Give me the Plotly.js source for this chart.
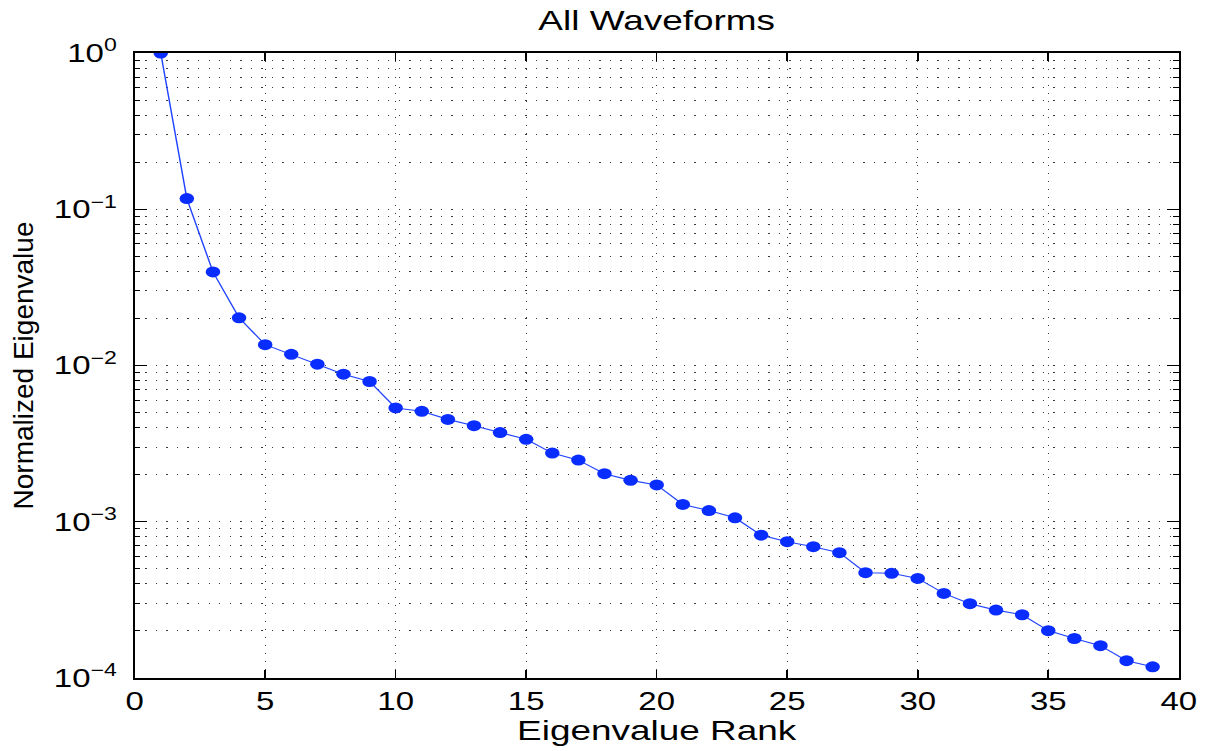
<!DOCTYPE html>
<html>
<head>
<meta charset="utf-8">
<script src="https://cdn.plot.ly/plotly-3.0.1.min.js"></script>
<style>
  html, body { margin: 0; padding: 0; background: #fff; overflow: hidden; }
  #wrap { width: 1209px; height: 751px; overflow: hidden; }
  #chart { transform-origin: 0 0; }
</style>
</head>
<body>
<div id="wrap"><div id="chart"></div></div>
<script>
// Eigenvalue spectrum, normalized to the largest eigenvalue
const rank = [1, 2, 3, 4, 5, 6, 7, 8, 9, 10,
              11, 12, 13, 14, 15, 16, 17, 18, 19, 20,
              21, 22, 23, 24, 25, 26, 27, 28, 29, 30,
              31, 32, 33, 34, 35, 36, 37, 38, 39];
const normEigen = [1.0, 0.117, 0.0397, 0.0202, 0.0136, 0.0118, 0.0102, 0.0088, 0.0079, 0.00535,
                   0.00509, 0.00452, 0.00412, 0.00372, 0.00337, 0.00275, 0.00248, 0.00203, 0.00184, 0.00172,
                   0.00129, 0.00118, 0.00106, 0.00082, 0.000745, 0.000692, 0.000634, 0.000472, 0.000468, 0.000434,
                   0.000348, 0.000299, 0.000272, 0.000254, 0.000201, 0.000179, 0.000161, 0.000129, 0.000118];

const yTickVals = [1, 0.1, 0.01, 0.001, 0.0001];
const yTickText = ['10<sup>0</sup>', '10<sup>\u22121</sup>', '10<sup>\u22122</sup>', '10<sup>\u22123</sup>', '10<sup>\u22124</sup>'];
const xTickVals = [0, 5, 10, 15, 20, 25, 30, 35, 40];

// The figure is laid out narrower and widened horizontally as a whole
const STRETCH = 1.32;
const W = Math.round(1209 / STRETCH);
const H = 751;

const FONT = 'Liberation Sans, Arial, Helvetica, sans-serif';
const GRID = { color: '#3a3a3a', dash: '1px,7px', width: 1 };

const trace = {
  x: rank,
  y: normEigen,
  type: 'scatter',
  mode: 'lines+markers',
  line: { color: '#2244ff', width: 1.1 },
  marker: { color: '#0a2dff', size: 11, line: { width: 0 } },
  hoverinfo: 'x+y'
};

const layout = {
  width: W,
  height: H,
  margin: { l: 102, r: 23, t: 53, b: 73 },
  paper_bgcolor: '#ffffff',
  plot_bgcolor: '#ffffff',
  showlegend: false,
  font: { family: FONT, color: '#000' },
  title: {
    text: 'All Waveforms',
    font: { family: FONT, size: 28, color: '#000' },
    x: 0.5, xref: 'paper', xanchor: 'center',
    y: 1, yref: 'paper', yanchor: 'bottom',
    pad: { b: 23 }
  },
  xaxis: {
    range: [0, 40],
    tickmode: 'array',
    tickvals: xTickVals,
    ticks: 'inside',
    ticklen: 8,
    tickwidth: 1.2,
    tickcolor: '#000',
    ticklabelstandoff: 0,
    tickfont: { family: FONT, size: 25, color: '#000' },
    showline: true,
    linecolor: '#000',
    linewidth: 1.8,
    mirror: 'ticks',
    showgrid: true,
    gridcolor: GRID.color,
    gridwidth: GRID.width,
    griddash: GRID.dash,
    zeroline: false,
    title: { text: 'Eigenvalue Rank', font: { family: FONT, size: 28, color: '#000' }, standoff: 0 }
  },
  yaxis: {
    type: 'log',
    range: [-4, 0],
    tickmode: 'array',
    tickvals: yTickVals,
    ticktext: yTickText,
    ticks: 'inside',
    ticklen: 9,
    tickwidth: 1.2,
    tickcolor: '#000',
    ticklabelstandoff: 7,
    tickfont: { family: FONT, size: 25, color: '#000' },
    showline: true,
    linecolor: '#000',
    linewidth: 1.5,
    mirror: 'ticks',
    showgrid: true,
    gridcolor: GRID.color,
    gridwidth: GRID.width,
    griddash: GRID.dash,
    zeroline: false,
    minor: {
      dtick: 'D1',
      ticks: 'inside',
      ticklen: 4,
      tickwidth: 1,
      tickcolor: '#000',
      showgrid: true,
      gridcolor: GRID.color,
      gridwidth: GRID.width,
      griddash: GRID.dash
    },
    title: { text: 'Normalized Eigenvalue', font: { family: FONT, size: 28, color: '#000' }, standoff: 9 }
  }
};

const gd = document.getElementById('chart');
gd.style.transform = 'scaleX(' + STRETCH + ')';

// Keep the rotated y title at its natural proportions inside the widened figure
function unstretchYTitle() {
  const t = gd.querySelector('.ytitle');
  if (!t) return;
  let base = t.getAttribute('data-base');
  if (!base) {
    base = t.getAttribute('transform') || '';
    t.setAttribute('data-base', base);
  }
  const x = parseFloat(t.getAttribute('x')) || 0;
  t.setAttribute('transform',
    'translate(' + x + ',0) scale(' + (1 / STRETCH) + ',1) translate(' + (-x) + ',0) ' + base);
}

Plotly.newPlot(gd, [trace], layout, { displayModeBar: false, staticPlot: true })
  .then(unstretchYTitle);
</script>
</body>
</html>
